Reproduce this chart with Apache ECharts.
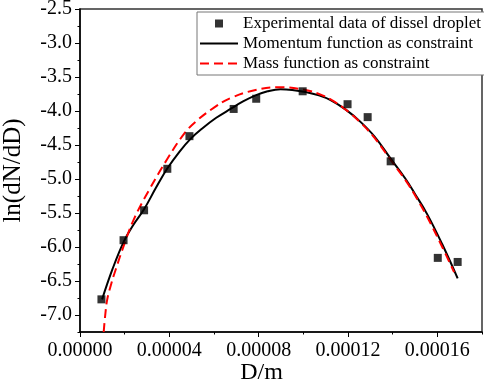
<!DOCTYPE html>
<html>
<head>
<meta charset="utf-8">
<script src="https://cdn.jsdelivr.net/npm/echarts@6/dist/echarts.min.js"></script>
<style>
  html, body { margin: 0; padding: 0; background: #fff; }
  #chart { width: 484px; height: 392px; }
</style>
</head>
<body>
<div id="chart"></div>
<script>
// experimental points (D in m, ln(dN/dD))
var expD = [0.96e-5, 1.95e-5, 2.87e-5, 3.91e-5, 4.9e-5, 6.88e-5, 7.89e-5, 9.97e-5, 11.98e-5, 12.88e-5, 13.91e-5, 16.02e-5, 16.91e-5];
var expLn = [-6.77, -5.90, -5.46, -4.85, -4.37, -3.97, -3.82, -3.71, -3.90, -4.09, -4.74, -6.16, -6.22];

// momentum function as constraint
var momD = [0.99e-5, 1.45e-5, 1.96e-5, 2.4e-5, 2.86e-5, 3.4e-5, 3.9e-5, 4.45e-5, 4.95e-5, 5.5e-5, 6.1e-5, 6.74e-5, 7.3e-5, 7.86e-5, 8.4e-5, 8.98e-5, 9.5e-5, 10.1e-5, 10.7e-5, 11.22e-5, 11.9e-5, 12.56e-5, 13.2e-5, 13.91e-5, 14.58e-5, 15.0e-5, 15.55e-5, 16.22e-5, 16.91e-5];
var momLn = [-6.77, -6.33, -5.92, -5.67, -5.45, -5.13, -4.85, -4.6, -4.41, -4.25, -4.1, -3.97, -3.86, -3.77, -3.71, -3.68, -3.69, -3.72, -3.77, -3.84, -3.98, -4.16, -4.38, -4.7, -5.0, -5.22, -5.52, -5.96, -6.46];

// mass function as constraint
var massD = [1.06e-5, 1.13e-5, 1.22e-5, 1.4e-5, 1.6e-5, 1.96e-5, 2.4e-5, 3.08e-5, 3.9e-5, 4.65e-5, 5.17e-5, 6.0e-5, 6.74e-5, 7.86e-5, 8.9e-5, 10.1e-5, 10.7e-5, 11.22e-5, 11.9e-5, 12.56e-5, 13.2e-5, 13.91e-5, 14.58e-5, 15.0e-5, 15.55e-5, 16.22e-5, 16.75e-5];
var massLn = [-7.25, -7.0, -6.77, -6.54, -6.33, -5.98, -5.6, -5.17, -4.71, -4.34, -4.16, -3.95, -3.81, -3.69, -3.65, -3.69, -3.75, -3.83, -3.98, -4.17, -4.4, -4.72, -5.02, -5.24, -5.56, -6.0, -6.37];

var xTicks = [0, 4e-5, 8e-5, 12e-5, 16e-5];
var yTicks = [-7.0, -6.5, -6.0, -5.5, -5.0, -4.5, -4.0, -3.5, -3.0, -2.5];

function pairs(xs, ys) {
  return xs.map(function (x, i) { return [x, ys[i]]; });
}

var font = 'Liberation Serif';
// tick labels through rich text so the serif face sticks
var tickRich = { t: { fontFamily: font, fontSize: 20, color: '#000' } };

var chart = echarts.init(document.getElementById('chart'));

chart.setOption({
  animation: false,
  backgroundColor: '#fff',
  textStyle: { fontFamily: font, color: '#000' },
  grid: [
    // main plot, minor ticks
    { left: 80, right: 2, top: 9, bottom: 60, show: true, borderColor: '#333', borderWidth: 1.5, outerBoundsMode: 'none', containLabel: false },
    // major ticks + labels
    { left: 80, right: 46.67, top: 9, bottom: 77, outerBoundsMode: 'none', containLabel: false }
  ],
  legend: {
    orient: 'vertical',
    left: 197,
    top: 12,
    padding: [3, 4, 3, 2],
    itemWidth: 38,
    itemHeight: 8,
    itemGap: 3,
    borderColor: '#777',
    borderWidth: 1,
    backgroundColor: '#fff',
    textStyle: { fontFamily: font, fontSize: 17, color: '#000' },
    data: [
      // square in the middle of a 38x8 box
      { name: 'Experimental data of dissel droplet', icon: 'path://M0,0M38,8M15,0h8v8h-8z' },
      { name: 'Momentum function as constraint', itemStyle: { opacity: 0 } },
      { name: 'Mass function as constraint', itemStyle: { opacity: 0 } }
    ]
  },
  xAxis: [{
    type: 'value',
    gridIndex: 0,
    min: 0,
    max: 18e-5,
    interval: 2e-5,
    name: 'D/m',
    nameLocation: 'middle',
    nameGap: 29,
    nameTextStyle: { fontFamily: font, fontSize: 24, color: '#000', padding: [0, 39, 0, 0] },
    axisLine: { onZero: false, lineStyle: { color: '#000', width: 1.5 } },
    axisTick: { length: 2.5, lineStyle: { color: '#000' } },
    axisLabel: { show: false },
    splitLine: { show: false }
  }, {
    type: 'value',
    gridIndex: 1,
    min: xTicks[0],
    max: xTicks[xTicks.length - 1],
    interval: 4e-5,
    offset: 17,
    axisLine: { show: false, onZero: false },
    axisTick: { length: 5, lineStyle: { color: '#000', width: 1 } },
    axisLabel: {
      fontFamily: font, fontSize: 20, color: '#000', margin: 9,
      formatter: function (v) { return '{t|' + v.toFixed(5) + '}'; },
      rich: tickRich
    },
    splitLine: { show: false }
  }],
  yAxis: [{
    type: 'value',
    gridIndex: 0,
    min: -7.25,
    max: -2.5,
    interval: 0.25,
    name: 'ln(dN/dD)',
    nameLocation: 'middle',
    nameGap: 54,
    nameTextStyle: { fontFamily: font, fontSize: 25, color: '#000' },
    axisLine: { show: true, onZero: false, lineStyle: { color: '#000', width: 1.5 } },
    axisTick: { show: true, length: 2.5, lineStyle: { color: '#000' } },
    axisLabel: { show: false },
    splitLine: { show: false }
  }, {
    type: 'value',
    gridIndex: 1,
    min: yTicks[0],
    max: yTicks[yTicks.length - 1],
    interval: 0.5,
    axisLine: { show: false, onZero: false },
    axisTick: { show: true, length: 5, lineStyle: { color: '#000', width: 1 } },
    axisLabel: {
      fontFamily: font, fontSize: 20, color: '#000', margin: 8,
      formatter: function (v) { return '{t|' + v.toFixed(1) + '}'; },
      rich: tickRich
    },
    splitLine: { show: false }
  }],
  series: [{
    name: 'Experimental data of dissel droplet',
    type: 'scatter',
    xAxisIndex: 0,
    yAxisIndex: 0,
    symbol: 'rect',
    symbolSize: 8,
    itemStyle: { color: '#000' },
    data: pairs(expD, expLn),
    z: 5
  }, {
    name: 'Momentum function as constraint',
    type: 'line',
    xAxisIndex: 0,
    yAxisIndex: 0,
    smooth: 0.4,
    symbol: 'none',
    lineStyle: { color: '#000', width: 2 },
    itemStyle: { color: '#000' },
    data: pairs(momD, momLn),
    z: 3
  }, {
    name: 'Mass function as constraint',
    type: 'line',
    xAxisIndex: 0,
    yAxisIndex: 0,
    smooth: 0.4,
    symbol: 'none',
    clip: true,
    lineStyle: { color: '#ff0000', width: 2, type: [9, 5] },
    itemStyle: { color: '#ff0000' },
    data: pairs(massD, massLn),
    z: 4
  }]
});
</script>
</body>
</html>
